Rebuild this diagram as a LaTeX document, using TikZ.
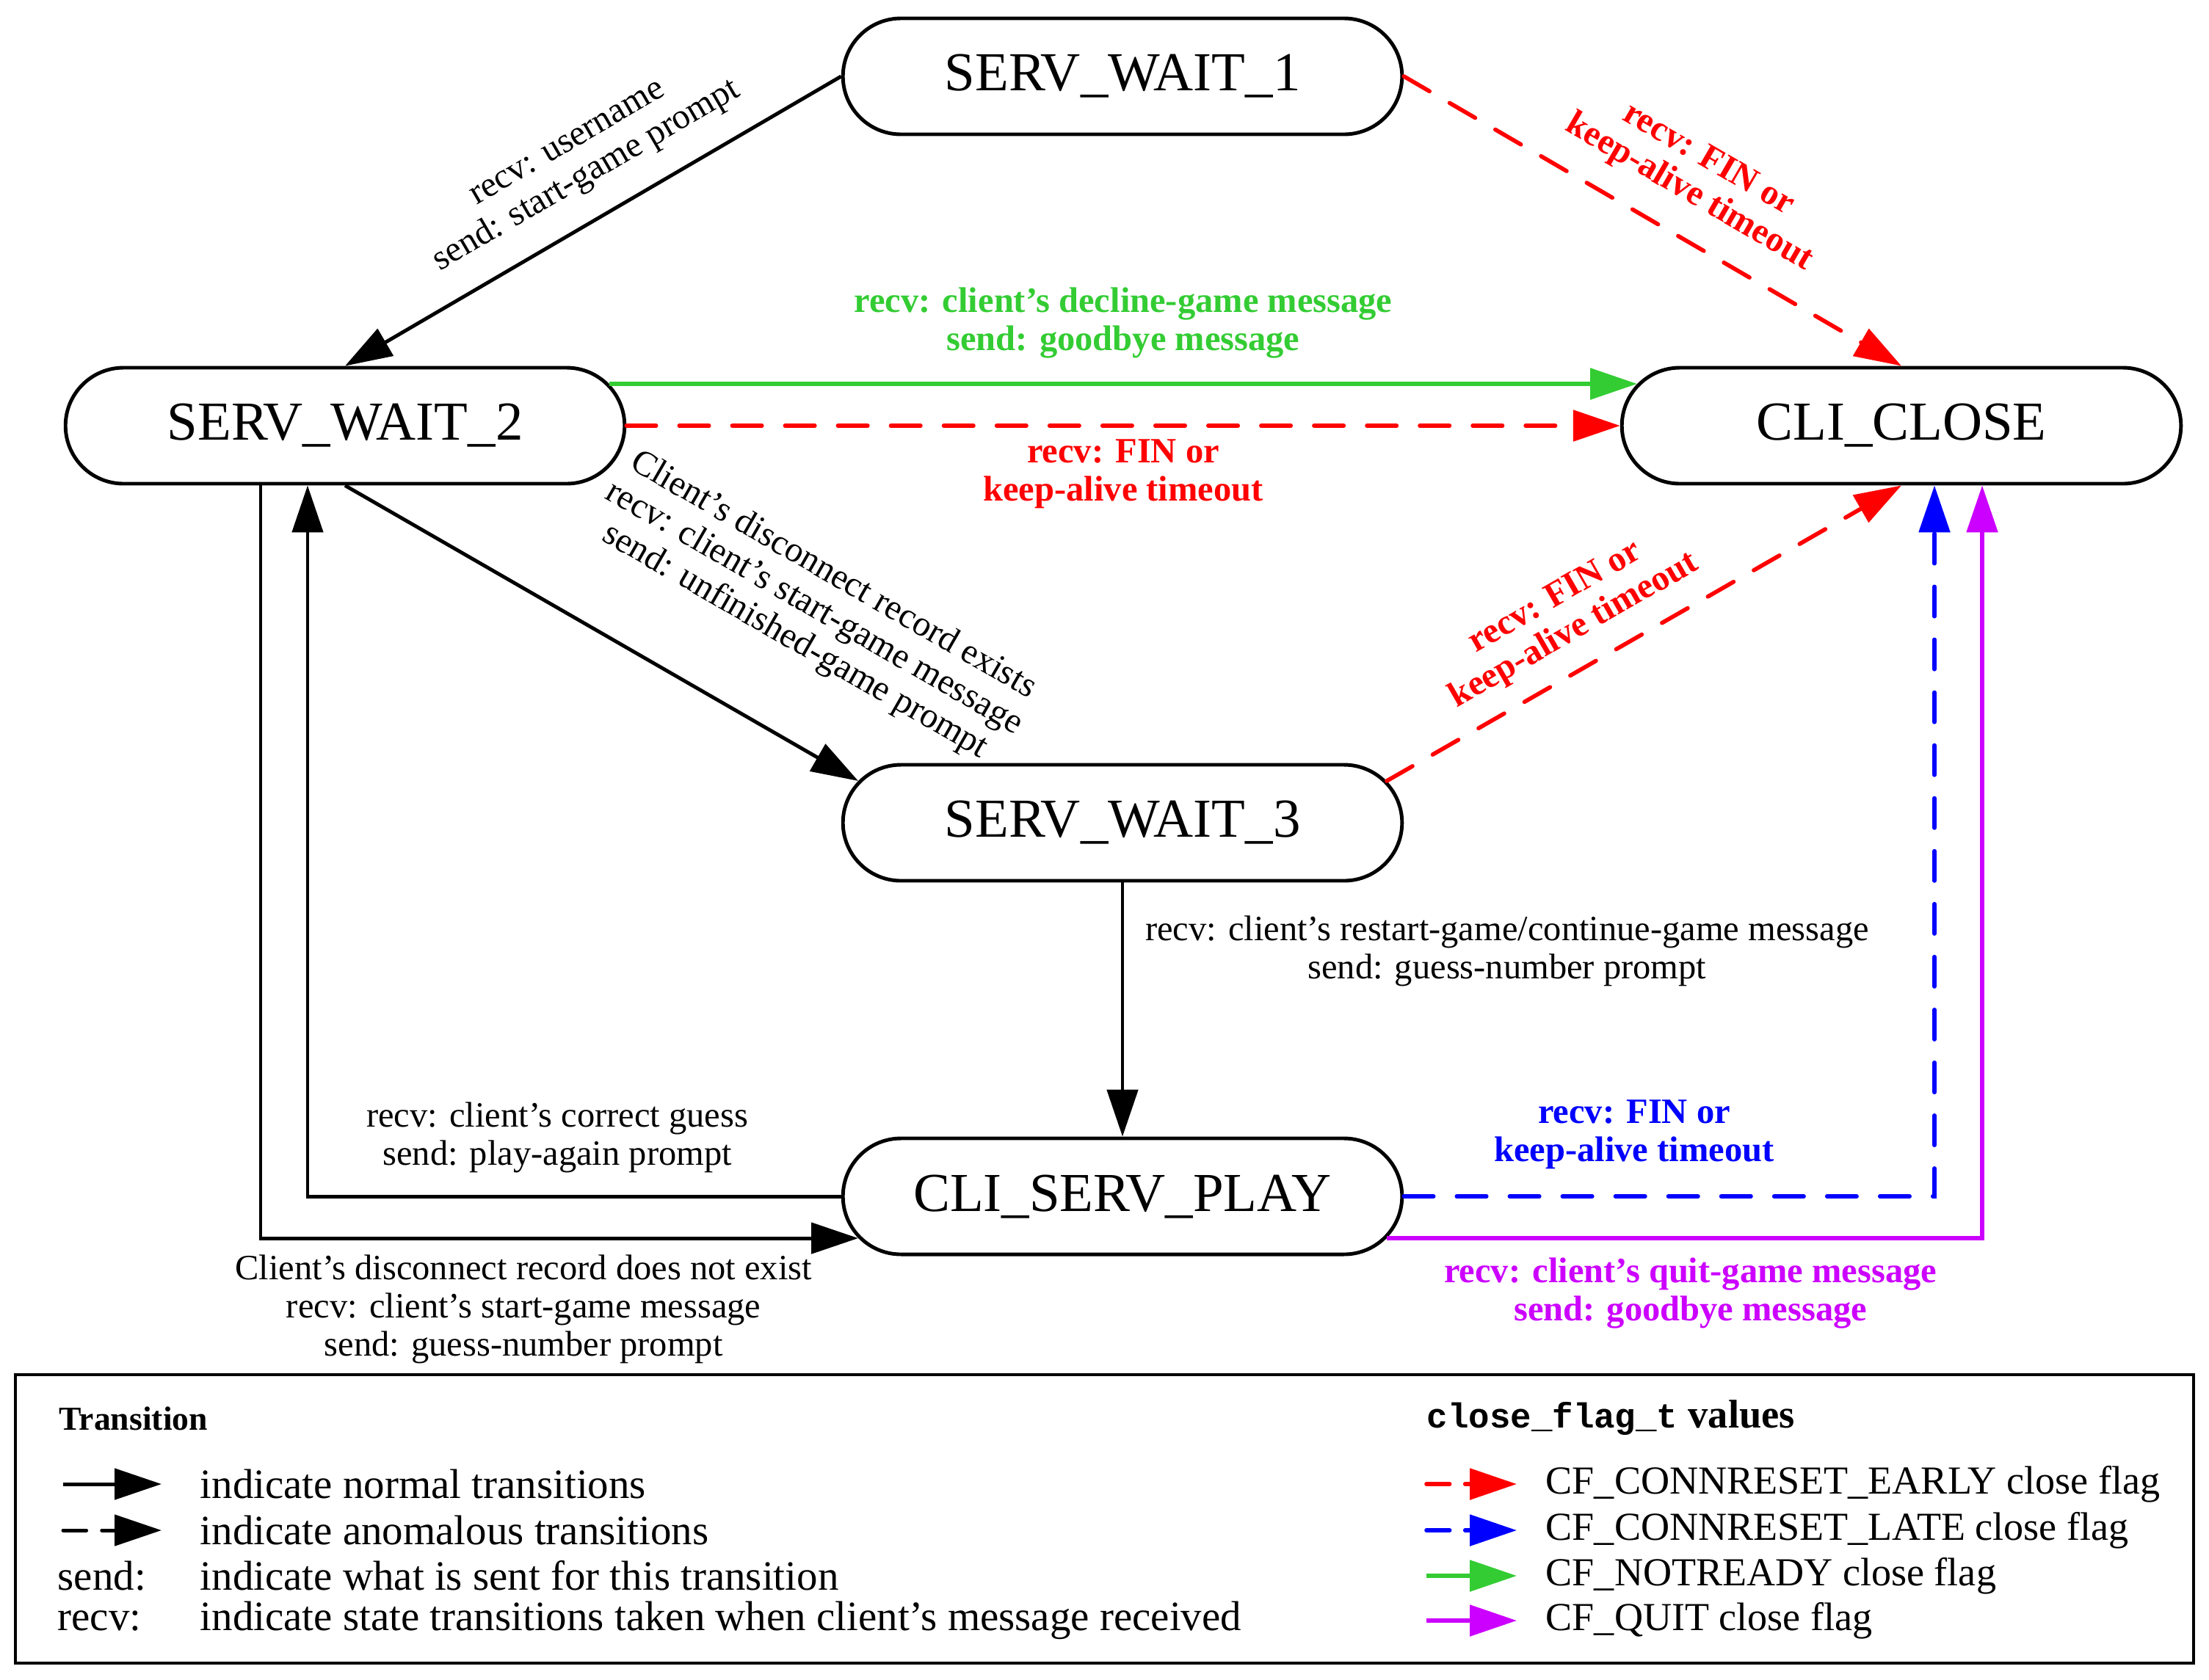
\documentclass[tikz,border=0pt]{standalone}
\usepackage{fontspec}
\setmainfont{Liberation Serif}
\setmonofont{Liberation Mono}
\usetikzlibrary{arrows.meta,shapes.misc}

\definecolor{cfred}{HTML}{FF0000}
\definecolor{cfblue}{HTML}{0000FF}
\definecolor{cfgreen}{HTML}{33CC33}
\definecolor{cfpurple}{HTML}{CC00FF}

\newcommand{\statefont}{\fontsize{21.3}{25}\selectfont}
\newcommand{\edgefont}{\fontsize{13.8}{14.8}\selectfont}
\newcommand{\keyfont}{\fontsize{16.2}{19}\selectfont}
\newcommand{\flagfont}{\fontsize{15.4}{18}\selectfont}

\begin{document}
\begin{tikzpicture}[
	state/.style={draw, shape=rounded rectangle, line width=1.4pt, minimum width=7.85cm, minimum height=1.58cm, font=\statefont},
	trans/.style={line width=1.4pt, -{Triangle[length=0.64cm, width=0.42cm]}},
	anomline/.style={line cap=round, dash pattern=on 11.5pt off 9pt},
	keydash/.style={line cap=round, dash pattern=on 9pt off 6pt},
	anom/.style={trans, anomline, line width=1.6pt},
	flag/.style={trans, line width=1.6pt},
	lbl/.style={font=\edgefont, align=center, inner sep=1pt},
	flbl/.style={lbl, font=\edgefont\bfseries},
	key/.style={font=\keyfont, anchor=west, inner sep=0pt}]
	\useasboundingbox (0,0) rectangle (30.09,-22.88);

	% states
	\node[state] at (15.29,-1.04) (sw1) {SERV\_WAIT\_1};
	\node[state] at (4.70,-5.80) (sw2) {SERV\_WAIT\_2};
	\node[state] at (25.90,-5.80) (close) {CLI\_CLOSE};
	\node[state] at (15.29,-11.21) (sw3) {SERV\_WAIT\_3};
	\node[state] at (15.29,-16.30) (play) {CLI\_SERV\_PLAY};

	% transitions
	\draw[trans] (sw1.west) -- node[lbl, sloped, above=0.3cm, pos=0.47] {recv: username\\send: start-game prompt} (sw2.north);
	\draw[anom, cfred] (sw1.east) -- node[flbl, sloped, above=0.3cm, pos=0.53] {recv: FIN or\\keep-alive timeout} (close.north);
	\draw[flag, cfgreen] (sw2.9) -- node[flbl, above=0.28cm] {recv: client's decline-game message\\send: goodbye message} (close.171);
	\draw[anom, cfred] (sw2.east) -- node[flbl, below=0.12cm] {recv: FIN or\\keep-alive timeout} (close.west);
	\draw[trans] (sw2.south) -- node[lbl, sloped, above=0.93cm, pos=0.79] {Client's disconnect record exists\\recv: client's start-game message\\send: unfinished-game prompt} (sw3.171);
	\draw[anom, cfred] (sw3.9) -- node[flbl, sloped, above=0.22cm, pos=0.4] {recv: FIN or\\keep-alive timeout} (close.south);
	\draw[trans] (sw3.south) -- node[lbl, right=0.25cm, pos=0.27] {recv: client's restart-game/continue-game message\\send: guess-number prompt} (play.north);
	\draw[trans] ([xshift=-1.15cm]sw2.south) |- node[lbl, below=0.17cm, pos=0.72] {Client's disconnect record does not exist\\recv: client's start-game message\\send: guess-number prompt} (play.189);
	\draw[trans] (play.west) -| node[lbl, above=0.26cm, pos=0.266] {recv: client's correct guess\\send: play-again prompt} ([xshift=-0.51cm]sw2.south);
	\draw[anom, cfblue] (play.east) -| node[flbl, above=0.31cm, pos=0.217] {recv: FIN or\\keep-alive timeout} ([xshift=0.45cm]close.south);
	\draw[flag, cfpurple] (play.-9) -| node[flbl, below=0.2cm, pos=0.255] {recv: client's quit-game message\\send: goodbye message} ([xshift=1.1cm]close.south);

	% legend
	\node[draw, line width=1pt, minimum width=29.67cm, minimum height=3.93cm] at (15.045,-20.695) (legend) {};
	\node[key, font=\fontsize{13}{15}\selectfont\bfseries] at (0.80,-19.33) (trhead) {Transition};
	\coordinate (na) at (0.86,-20.22);
	\coordinate (nb) at (2.20,-20.22);
	\draw[trans] (na) -- (nb);
	\node[key] at (2.72,-20.22) (normtxt) {indicate normal transitions};
	\coordinate (aa) at (0.86,-20.85);
	\coordinate (ab) at (2.20,-20.85);
	\draw[trans, keydash] (aa) -- (ab);
	\node[key] at (2.72,-20.85) (anomtxt) {indicate anomalous transitions};
	\node[key] at (0.78,-21.47) (sendkey) {send:};
	\node[key] at (2.72,-21.47) (sendtxt) {indicate what is sent for this transition};
	\node[key] at (0.78,-22.08) (recvkey) {recv:};
	\node[key] at (2.72,-22.08) (recvtxt) {indicate state transitions taken when client's message received};

	\node[key] at (19.43,-19.32) (cfhead) {{\fontsize{13.5}{15}\selectfont\ttfamily\bfseries close\_flag\_t} {\fontsize{15.5}{18}\selectfont\bfseries values}};
	\coordinate (ea) at (19.43,-20.22);
	\coordinate (eb) at (20.66,-20.22);
	\draw[anom, keydash, cfred] (ea) -- (eb);
	\node[key, font=\flagfont] at (21.05,-20.22) (earlytxt) {CF\_CONNRESET\_EARLY close flag};
	\coordinate (la) at (19.43,-20.85);
	\coordinate (lb) at (20.66,-20.85);
	\draw[anom, keydash, cfblue] (la) -- (lb);
	\node[key, font=\flagfont] at (21.05,-20.85) (latetxt) {CF\_CONNRESET\_LATE close flag};
	\coordinate (ra) at (19.43,-21.47);
	\coordinate (rb) at (20.66,-21.47);
	\draw[flag, cfgreen] (ra) -- (rb);
	\node[key, font=\flagfont] at (21.05,-21.47) (readytxt) {CF\_NOTREADY close flag};
	\coordinate (qa) at (19.43,-22.08);
	\coordinate (qb) at (20.66,-22.08);
	\draw[flag, cfpurple] (qa) -- (qb);
	\node[key, font=\flagfont] at (21.05,-22.08) (quittxt) {CF\_QUIT close flag};
\end{tikzpicture}
\end{document}
